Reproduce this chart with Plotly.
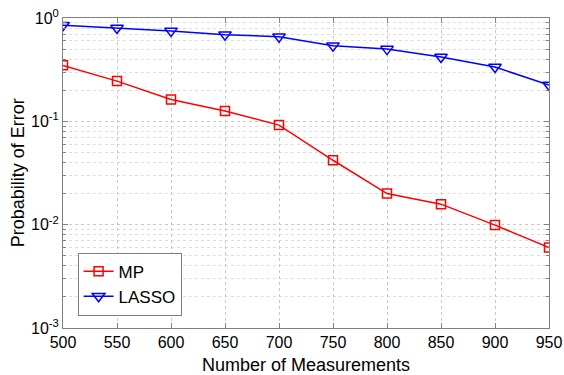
import plotly.graph_objects as go

measurements = [500, 550, 600, 650, 700, 750, 800, 850, 900, 950]
mp_error = [0.348, 0.245, 0.163, 0.126, 0.092, 0.042, 0.020, 0.0158, 0.0099, 0.0060]
lasso_error = [0.85, 0.80, 0.75, 0.69, 0.66, 0.54, 0.50, 0.42, 0.335, 0.225]
x_ticks = [500, 550, 600, 650, 700, 750, 800, 850, 900, 950]
y_ticks = [1e-3, 1e-2, 1e-1, 1]
y_tick_labels = ["10<sup>-3</sup>", "10<sup>-2</sup>", "10<sup>-1</sup>", "10<sup>0</sup>"]
x_title = "Number of Measurements"
y_title = "Probability of Error"

minor_vals = [m * 10 ** e for e in (-3, -2, -1) for m in range(2, 10)]

fig = go.Figure()
fig.add_trace(go.Scatter(
    x=measurements, y=mp_error, name="MP", mode="lines+markers",
    line=dict(color="#ff0000", width=1.5),
    marker=dict(symbol="square-open", size=9, color="#ff0000", line=dict(width=1.5)),
))
fig.add_trace(go.Scatter(
    x=measurements, y=lasso_error, name="LASSO", mode="lines+markers",
    line=dict(color="#0000ff", width=1.5),
    marker=dict(symbol="triangle-down-open", size=11, color="#0000ff", line=dict(width=1.5)),
))

axis_common = dict(
    showline=True, linecolor="#808080", linewidth=1, mirror="ticks",
    ticks="inside", ticklen=5, tickcolor="#808080",
    showgrid=True, gridcolor="#c8c8c8", griddash="dot", gridwidth=1,
    zeroline=False, automargin=False,
    tickfont=dict(family="Liberation Sans, Arial", size=16, color="black"),
)

fig.update_xaxes(range=[500, 950], tickvals=x_ticks, ticklabelstandoff=0, **axis_common)
fig.update_yaxes(
    type="log", range=[-3, 0], tickvals=y_ticks, ticktext=y_tick_labels,
    minor=dict(tickvals=minor_vals, showgrid=True, gridcolor="#dcdcdc", griddash="dot",
               ticks="inside", ticklen=3, tickcolor="#808080"),
    **axis_common,
)

title_font = dict(family="Liberation Sans, Arial", size=18, color="black")
fig.add_annotation(text=x_title, xref="paper", yref="paper", x=0.5, y=-0.118,
                   xanchor="center", yanchor="middle", showarrow=False, font=title_font)
fig.add_annotation(text=y_title, xref="paper", yref="paper", x=-0.092, y=0.5,
                   xanchor="center", yanchor="middle", showarrow=False, textangle=-90, font=title_font)

fig.update_layout(
    width=564, height=375,
    margin=dict(l=63, r=15, t=18, b=47),
    paper_bgcolor="white", plot_bgcolor="white",
    font=dict(family="Liberation Sans, Arial", color="black"),
    legend=dict(
        x=0.03, y=0.04, xanchor="left", yanchor="bottom",
        bgcolor="white", bordercolor="#808080", borderwidth=1,
        font=dict(size=17), itemwidth=30, tracegroupgap=0,
    ),
    showlegend=True,
)

fig.write_html("out.html")
